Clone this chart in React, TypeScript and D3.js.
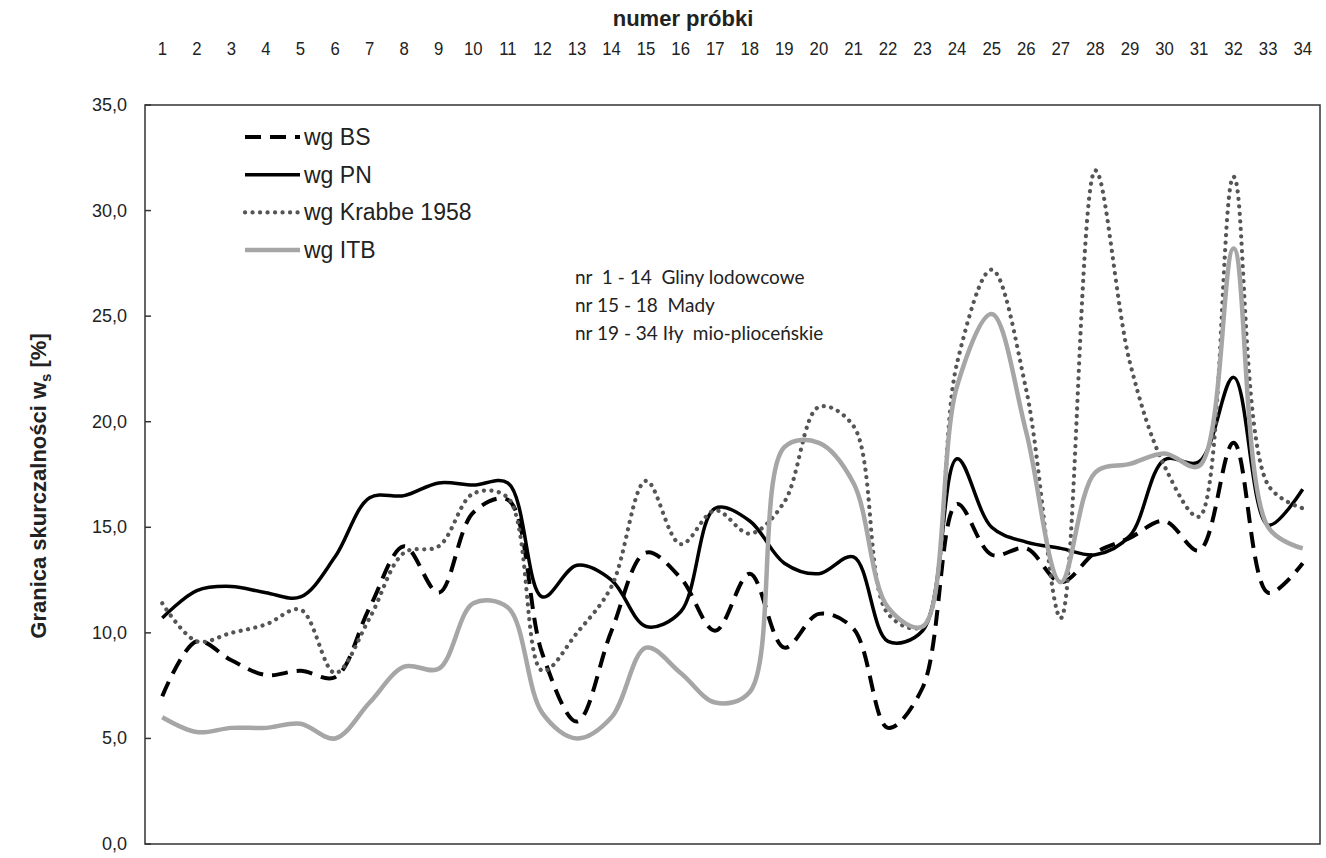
import React from "react";
import * as d3 from "d3";

const categories = ["1","2","3","4","5","6","7","8","9","10","11","12","13","14","15","16","17","18","19","20","21","22","23","24","25","26","27","28","29","30","31","32","33","34"];

const wgBS = [7.0, 9.6, 8.7, 8.0, 8.2, 7.9, 11.2, 14.1, 11.9, 15.7, 16.3, 9.0, 5.8, 10.1, 13.8, 12.6, 10.1, 12.8, 9.3, 10.9, 10.2, 5.5, 7.4, 16.1, 13.7, 14.0, 12.4, 13.8, 14.5, 15.3, 13.9, 19.0, 11.9, 13.3];
const wgPN = [10.7, 12.0, 12.2, 11.9, 11.7, 13.6, 16.4, 16.5, 17.1, 17.0, 17.1, 11.7, 13.2, 12.5, 10.3, 11.0, 15.9, 15.3, 13.3, 12.8, 13.6, 9.6, 10.1, 18.25, 15.0, 14.3, 14.0, 13.7, 14.6, 18.2, 18.1, 22.1, 15.1, 16.8];
const wgKrabbe = [11.4, 9.6, 10.0, 10.4, 11.1, 8.1, 10.7, 13.8, 14.1, 16.6, 16.4, 8.2, 10.0, 12.2, 17.2, 14.2, 15.8, 14.7, 16.2, 20.7, 19.8, 10.9, 10.3, 22.8, 27.2, 21.5, 10.7, 31.9, 22.8, 17.9, 15.5, 31.6, 17.0, 15.9];
const wgITB = [6.0, 5.3, 5.5, 5.5, 5.7, 5.0, 6.7, 8.4, 8.3, 11.4, 11.2, 6.2, 5.0, 6.0, 9.3, 8.1, 6.7, 7.2, 18.8, 19.0, 17.1, 11.2, 10.3, 21.7, 25.1, 19.5, 12.4, 17.6, 18.0, 18.5, 17.9, 28.2, 15.0, 14.0];

const yTicks = [0, 5, 10, 15, 20, 25, 30, 35];
const seriesNames = ["wg BS", "wg PN", "wg Krabbe 1958", "wg ITB"];
const annotations = ["nr  1 - 14  Gliny lodowcowe", "nr 15 - 18  Mady", "nr 19 - 34 Iły  mio-plioceńskie"];

const styles = [
  { stroke: "#000", width: 4, dash: "16,9", cap: "butt" },
  { stroke: "#000", width: 3.5, dash: null, cap: "butt" },
  { stroke: "#555", width: 4.2, dash: "0.1,7.4", cap: "round" },
  { stroke: "#a6a6a6", width: 4.5, dash: null, cap: "butt" },
];

export default function App() {
  const W = 1326, H = 858;
  const left = 145, right = 1320, top = 105, bottom = 844;
  const x = d3.scaleBand<string>().domain(categories).range([left, right]).padding(0);
  const cx = (c: string) => (x(c) as number) + x.bandwidth() / 2;
  const y = d3.scaleLinear().domain([0, 35]).range([bottom, top]);
  const line = d3.line<number>().x((_, i) => cx(categories[i])).y((d) => y(d)).curve(d3.curveCatmullRom.alpha(0.5));
  const series = [wgBS, wgPN, wgKrabbe, wgITB];
  const fmt = (v: number) => d3.format(".1f")(v).replace(".", ",");
  const font = "'Liberation Sans', Arial, sans-serif";

  return (
    <svg width={W} height={H} style={{ position: "absolute", left: 0, top: 0, background: "#fff" }}>
      <rect x={0} y={0} width={W} height={H} fill="#fff" />
      <text x={683} y={26} textAnchor="middle" fontFamily={font} fontWeight="bold" fontSize={22} fill="#222">numer próbki</text>
      {categories.map((c) => (
        <text key={c} x={cx(c)} y={55} textAnchor="middle" fontFamily={font} fontSize={19} fill="#222"
          transform={`translate(${cx(c)},0) scale(0.88,1) translate(${-cx(c)},0)`}>{c}</text>
      ))}
      <rect x={left} y={top} width={right - left} height={bottom - top} fill="none" stroke="#333" strokeWidth={1.5} />
      {yTicks.map((t) => (
        <g key={t}>
          <line x1={left} x2={left + 6} y1={y(t)} y2={y(t)} stroke="#333" strokeWidth={1.5} />
          <text x={127} y={y(t) + 6} textAnchor="end" fontFamily={font} fontSize={18} fill="#222">{fmt(t)}</text>
        </g>
      ))}
      <text transform={`translate(46,486) rotate(-90)`} textAnchor="middle" fontFamily={font} fontWeight="bold" fontSize={22} fill="#222">
        Granica skurczalności w<tspan fontSize={15} dy={5}>s</tspan><tspan dy={-5}> [%]</tspan>
      </text>
      {series.map((s, i) => (
        <path key={i} d={line(s) || ""} fill="none" stroke={styles[i].stroke} strokeWidth={styles[i].width}
          strokeDasharray={styles[i].dash || undefined} strokeLinecap={styles[i].cap as any} strokeLinejoin="round" />
      ))}
      {seriesNames.map((n, i) => {
        const ly = 137 + i * 37.7;
        return (
          <g key={n}>
            <line x1={245} x2={300} y1={ly} y2={ly} stroke={styles[i].stroke} strokeWidth={styles[i].width}
              strokeDasharray={styles[i].dash || undefined} strokeLinecap={styles[i].cap as any} />
            <text x={304} y={ly + 8} fontFamily={font} fontSize={23} fill="#222">{n}</text>
          </g>
        );
      })}
      {annotations.map((a, i) => (
        <text key={i} x={575} y={284 + i * 28} fontFamily="Lato, 'Open Sans', sans-serif" fontSize={19} fill="#222" style={{ whiteSpace: "pre" }}>{a}</text>
      ))}
    </svg>
  );
}
